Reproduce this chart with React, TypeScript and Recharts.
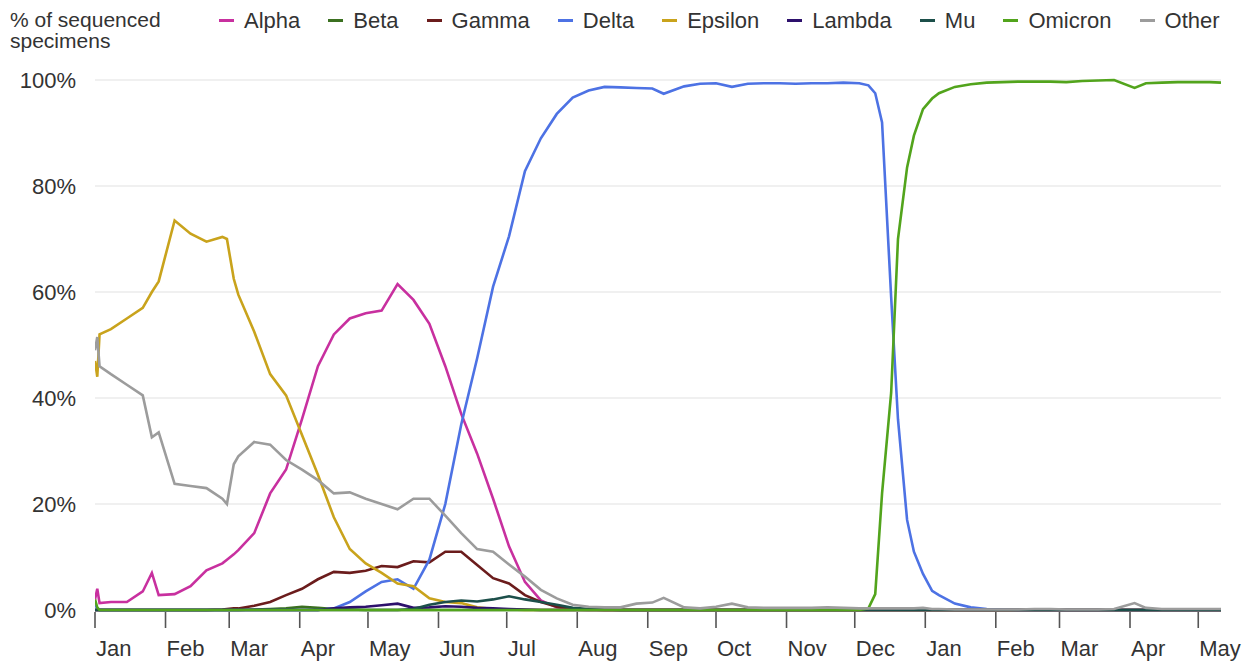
import React from 'react';
import { LineChart, Line, XAxis, YAxis, CartesianGrid } from 'recharts';

// Days since 1 Jan 2021
const days = [
  0, 1, 2, 7, 14, 21, 25, 28, 35, 42,
  49, 56, 58, 61, 63, 70, 77, 84, 91, 98,
  105, 112, 119, 126, 133, 140, 147, 154, 161, 168,
  175, 182, 189, 196, 203, 210, 217, 224, 231, 238,
  245, 250, 259, 266, 273, 280, 287, 294, 301, 308,
  315, 322, 329, 336, 340, 343, 346, 350, 353, 357,
  360, 364, 368, 371, 378, 385, 392, 399, 406, 413,
  420, 427, 434, 441, 448, 457, 462, 469, 476, 483,
  490, 495,
];

const alpha = [
  2, 4, 1.3, 1.5, 1.5, 3.5, 7, 2.8, 3, 4.5,
  7.5, 8.8, 9.5, 10.5, 11.3, 14.5, 22, 26.5, 36, 46,
  52, 55, 56, 56.5, 61.5, 58.5, 54, 46, 37, 29.5,
  21, 12, 5.3, 1.8, 0.5, 0.1, 0, 0, 0, 0,
  0, 0, 0, 0, 0, 0, 0, 0, 0, 0,
  0, 0, 0, 0, 0, 0, 0, 0, 0, 0,
  0, 0, 0, 0, 0, 0, 0, 0, 0, 0,
  0, 0, 0, 0, 0, 0, 0, 0, 0, 0,
  0, 0,
];

const beta = [
  0, 0, 0, 0, 0, 0, 0, 0, 0, 0,
  0, 0, 0, 0, 0, 0.1, 0.2, 0.3, 0.6, 0.4,
  0.2, 0.1, 0, 0, 0, 0, 0, 0, 0, 0,
  0, 0, 0, 0, 0, 0, 0, 0, 0, 0,
  0, 0, 0, 0, 0, 0, 0, 0, 0, 0,
  0, 0, 0, 0, 0, 0, 0, 0, 0, 0,
  0, 0, 0, 0, 0, 0, 0, 0, 0, 0,
  0, 0, 0, 0, 0, 0, 0, 0, 0, 0,
  0, 0,
];

const gamma = [
  0, 0, 0, 0, 0, 0, 0, 0, 0, 0,
  0, 0.1, 0.2, 0.3, 0.3, 0.8, 1.5, 2.8, 4, 5.8,
  7.2, 7, 7.4, 8.3, 8.1, 9.2, 9, 11, 11, 8.5,
  6, 5, 2.8, 1.5, 0.6, 0.3, 0.1, 0, 0, 0,
  0, 0, 0, 0, 0, 0, 0, 0, 0, 0,
  0, 0, 0, 0, 0, 0, 0, 0, 0, 0,
  0, 0, 0, 0, 0, 0, 0, 0, 0, 0,
  0, 0, 0, 0, 0, 0, 0, 0, 0, 0,
  0, 0,
];

const delta = [
  1, 0.3, 0, 0, 0, 0, 0, 0, 0, 0,
  0, 0, 0, 0, 0, 0, 0, 0, 0, 0,
  0.3, 1.5, 3.5, 5.3, 5.8, 4, 9.5, 20, 35, 47.5,
  61, 70.5, 82.8, 89, 93.6, 96.7, 98, 98.7, 98.6, 98.5,
  98.4, 97.4, 98.8, 99.3, 99.4, 98.7, 99.3, 99.4, 99.4, 99.3,
  99.4, 99.4, 99.5, 99.4, 99, 97.5, 92, 59, 36, 17,
  11, 6.8, 3.6, 2.8, 1.2, 0.5, 0.2, 0.1, 0, 0,
  0, 0, 0, 0, 0, 0, 0, 0, 0, 0,
  0, 0,
];

const epsilon = [
  47, 44, 52, 53, 55, 57, 60, 62, 73.5, 71,
  69.5, 70.4, 70, 62.5, 59.5, 52.5, 44.5, 40.5, 33, 25.5,
  17.5, 11.5, 8.8, 7, 5, 4.5, 2.2, 1.5, 1.3, 0.5,
  0.2, 0.1, 0, 0, 0, 0, 0, 0, 0, 0,
  0, 0, 0, 0, 0, 0, 0, 0, 0, 0,
  0, 0, 0, 0, 0, 0, 0, 0, 0, 0,
  0, 0, 0, 0, 0, 0, 0, 0, 0, 0,
  0, 0, 0, 0, 0, 0, 0, 0, 0, 0,
  0, 0,
];

const lambda = [
  0, 0, 0, 0, 0, 0, 0, 0, 0, 0,
  0, 0, 0, 0, 0, 0, 0, 0, 0, 0,
  0.3, 0.5, 0.6, 0.9, 1.2, 0.4, 0.5, 0.7, 0.6, 0.4,
  0.3, 0.2, 0.1, 0, 0, 0, 0, 0, 0, 0,
  0, 0, 0, 0, 0, 0, 0, 0, 0, 0,
  0, 0, 0, 0, 0, 0, 0, 0, 0, 0,
  0, 0, 0, 0, 0, 0, 0, 0, 0, 0,
  0, 0, 0, 0, 0, 0, 0, 0, 0, 0,
  0, 0,
];

const mu = [
  0, 0, 0, 0, 0, 0, 0, 0, 0, 0,
  0, 0, 0, 0, 0, 0, 0, 0, 0, 0,
  0, 0, 0, 0, 0, 0.2, 1, 1.5, 1.8, 1.6,
  2, 2.6, 2, 1.5, 1, 0.4, 0.2, 0.1, 0, 0,
  0, 0, 0, 0, 0, 0, 0, 0, 0, 0,
  0, 0, 0, 0, 0, 0, 0, 0, 0, 0,
  0, 0, 0, 0, 0, 0, 0, 0, 0, 0,
  0, 0, 0, 0, 0, 0, 0, 0, 0, 0,
  0, 0,
];

const omicron = [
  2, 0.5, 0, 0, 0, 0, 0, 0, 0, 0,
  0, 0, 0, 0, 0, 0, 0, 0, 0, 0,
  0, 0, 0, 0, 0, 0, 0, 0, 0, 0,
  0, 0, 0, 0, 0, 0, 0, 0, 0, 0,
  0, 0, 0, 0, 0, 0, 0, 0, 0, 0,
  0, 0, 0, 0, 0.3, 3, 22, 41, 70, 83.5,
  89.5, 94.5, 96.5, 97.5, 98.7, 99.2, 99.5, 99.6, 99.7, 99.7,
  99.7, 99.6, 99.8, 99.9, 100, 98.5, 99.4, 99.5, 99.6, 99.6,
  99.6, 99.5,
];

const other = [
  49, 51.5, 46, 44.5, 42.5, 40.5, 32.6, 33.5, 23.8, 23.4,
  23, 21, 20, 27.5, 29, 31.7, 31.2, 28.3, 26.5, 24.5,
  22, 22.2, 21, 20, 19, 21, 21, 17.8, 14.5, 11.5,
  11, 8.6, 6.3, 3.8, 2.2, 1, 0.6, 0.5, 0.5, 1.2,
  1.4, 2.3, 0.5, 0.3, 0.6, 1.2, 0.5, 0.4, 0.4, 0.4,
  0.4, 0.5, 0.4, 0.3, 0.3, 0.3, 0.3, 0.3, 0.3, 0.3,
  0.3, 0.4, 0.2, 0.2, 0.1, 0.1, 0.1, 0.1, 0.1, 0.2,
  0.2, 0.1, 0.1, 0.1, 0.2, 1.3, 0.4, 0.2, 0.2, 0.2,
  0.2, 0.2,
];

const monthTicks = [0, 31, 59, 90, 120, 151, 181, 212, 243, 273, 304, 334, 365, 396, 424, 455, 485];
const monthLabels = ['Jan', 'Feb', 'Mar', 'Apr', 'May', 'Jun', 'Jul', 'Aug', 'Sep', 'Oct', 'Nov', 'Dec', 'Jan', 'Feb', 'Mar', 'Apr', 'May'];
const yTicks = [0, 20, 40, 60, 80, 100];

const seriesNames = ['Alpha', 'Beta', 'Gamma', 'Delta', 'Epsilon', 'Lambda', 'Mu', 'Omicron', 'Other'];
const seriesValues = [alpha, beta, gamma, delta, epsilon, lambda, mu, omicron, other];
const seriesColors = ['#c8309f', '#3b7020', '#6b1c1c', '#4d72e4', '#c9a31c', '#2d106c', '#1c4f4a', '#52a41c', '#9c9c9c'];

const rows = days.map((d, i) => {
  const row: Record<string, number> = { day: d };
  seriesNames.forEach((n, s) => {
    row[n] = seriesValues[s][i];
  });
  return row;
});

const FONT = '"Liberation Sans", Arial, Helvetica, sans-serif';
const TEXT = '#333333';

function MonthTick(props: any) {
  const { x, y, payload } = props;
  const idx = monthTicks.indexOf(payload.value);
  return (
    <g>
      <line x1={x} x2={x} y1={y + 2} y2={y + 18} stroke="#555" strokeWidth={1.6} />
      <text x={x + 1} y={y + 46} textAnchor="start" fontSize={22} fill={TEXT} fontFamily={FONT}>
        {monthLabels[idx]}
      </text>
    </g>
  );
}

export default function App() {
  return (
    <div
      style={{
        position: 'absolute',
        left: 0,
        top: 0,
        width: 1250,
        height: 662,
        background: '#fff',
        fontFamily: FONT,
        color: TEXT,
        overflow: 'hidden',
      }}
    >
      <div
        style={{
          position: 'absolute',
          left: 10,
          top: 9,
          fontSize: 21,
          lineHeight: '21px',
          whiteSpace: 'nowrap',
        }}
      >
        <div>% of sequenced</div>
        <div>specimens</div>
      </div>
      <div
        style={{
          position: 'absolute',
          left: 219,
          top: 10,
          display: 'flex',
          alignItems: 'center',
          gap: 28,
          fontSize: 22,
          lineHeight: '21px',
          whiteSpace: 'nowrap',
        }}
      >
        {seriesNames.map((n, i) => (
          <div key={n} style={{ display: 'flex', alignItems: 'center' }}>
            <span
              style={{
                display: 'inline-block',
                width: 15,
                height: 3,
                background: seriesColors[i],
                marginRight: 10,
              }}
            />
            <span>{n}</span>
          </div>
        ))}
      </div>
      <LineChart
        width={1250}
        height={662}
        data={rows}
        margin={{ top: 80, right: 29, left: 0, bottom: 0 }}
        style={{ position: 'absolute', left: 0, top: 0 }}
      >
        <CartesianGrid vertical={false} stroke="#ebebeb" strokeWidth={1.5} />
        <XAxis
          type="number"
          dataKey="day"
          domain={[0, 495]}
          ticks={monthTicks}
          interval={0}
          tickLine={false}
          axisLine={false}
          tickSize={0}
          tickMargin={0}
          height={52}
          tick={<MonthTick />}
          allowDataOverflow
        />
        <YAxis
          type="number"
          domain={[0, 100]}
          ticks={yTicks}
          width={95}
          tickLine={false}
          axisLine={false}
          tickSize={0}
          tickMargin={19}
          interval={0}
          tickFormatter={(v: number) => `${v}%`}
          tick={{ fontSize: 22, fill: TEXT, fontFamily: FONT }}
        />
        {seriesNames.map((n, i) => (
          <Line
            key={n}
            type="linear"
            dataKey={n}
            stroke={seriesColors[i]}
            strokeWidth={2.6}
            dot={false}
            activeDot={false}
            isAnimationActive={false}
          />
        ))}
      </LineChart>
    </div>
  );
}
